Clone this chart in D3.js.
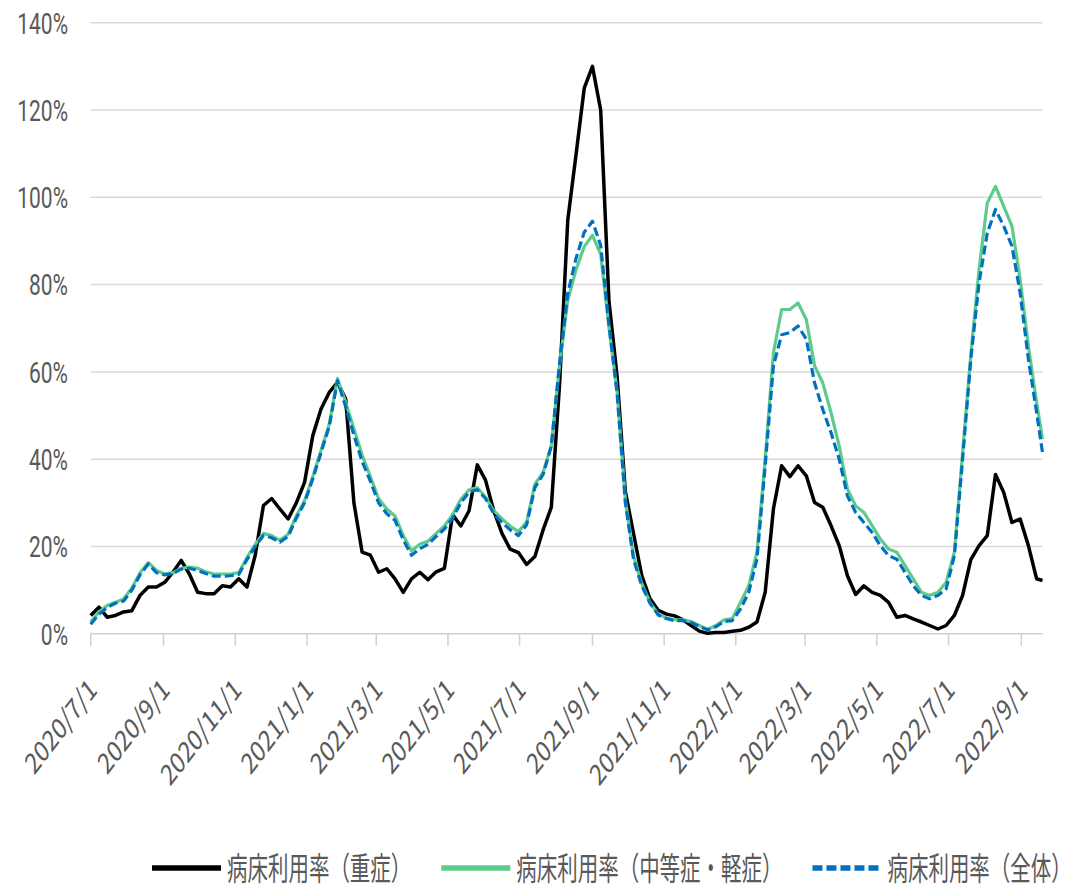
<!DOCTYPE html>
<html>
<head>
<meta charset="utf-8">
<script src="https://cdn.jsdelivr.net/npm/d3@7"></script>
<style>
  body { margin: 0; background: #fff; }
  text { font-family: "Noto Sans CJK JP", "Noto Sans", sans-serif; fill: #595959; }
</style>
</head>
<body>
<div id="chart"></div>
<script>
// weekly readings starting 2020/7/1, plus a last point on 2022/9/19
var startDay = "2020-07-01";
var lastDay = "2022-09-19";

// 病床利用率（重症） in %
var severe = [
  4.2, 6.1, 3.8, 4.2, 5, 5.3, 8.8, 10.7, 10.7, 11.8,
  14.1, 16.8, 13.7, 9.5, 9.2, 9.2, 11, 10.7, 12.6, 10.7,
  18, 29.4, 31, 28.6, 26.3, 30, 34.7, 45.4, 51.5, 55.3,
  57.6, 53.8, 30, 18.7, 18, 14.1, 14.9, 12.6, 9.5, 12.6,
  14.1, 12.4, 14.2, 15, 27.3, 24.7, 28.2, 38.7, 35.2, 28.2,
  23, 19.4, 18.6, 15.9, 17.7, 23.8, 29, 57.1, 94.8, 109.7,
  125, 130, 120, 76.4, 58.9, 32.6, 22.9, 13.3, 8, 5.4,
  4.5, 4.1, 3.2, 1.9, 0.6, 0.1, 0.3, 0.3, 0.6, 0.8,
  1.5, 2.7, 9.5, 28.6, 38.5, 36, 38.5, 36.2, 30.1, 29,
  24.8, 20.2, 13.3, 9, 11, 9.5, 8.8, 7.2, 3.8, 4.2,
  3.4, 2.7, 1.9, 1.1, 1.9, 4.2, 8.8, 17, 20.2, 22.5,
  36.5, 32.4, 25.5, 26.3, 20.2, 12.6, 12.2
];

// 病床利用率（中等症・軽症） in %
var moderate = [
  2.7, 5, 6.5, 7.2, 8, 10.5, 14, 16.3, 14.5, 13.7,
  14, 15, 15.3, 15, 14.2, 13.7, 13.7, 13.7, 14, 17.5,
  20.5, 23, 22.5, 21.4, 22.8, 27, 30.5, 36, 42, 48,
  58.5, 53, 47, 41, 36, 31, 28.6, 27, 22.5, 19,
  20.5, 21.2, 23, 24.7, 27.3, 30.8, 33, 33.5, 31.3, 28.2,
  26.4, 24.7, 23.4, 25.6, 34.3, 37, 43.1, 61.5, 76.4, 83.4,
  88.7, 91.3, 87, 70.3, 55.4, 30.8, 17.7, 11.5, 7.2, 4.5,
  3.6, 3.2, 3.2, 2.8, 1.9, 1, 1.9, 3.2, 3.5, 7.2,
  11, 18.7, 40, 64.4, 74.3, 74.3, 75.8, 72, 61.4, 57.5,
  50.7, 43, 33.2, 29.3, 27.8, 24.8, 21.7, 19.4, 18.7, 15.6,
  12.6, 9.5, 8.8, 9.5, 11.8, 18.7, 41.5, 64, 83.5, 98.7,
  102.5, 97.9, 93.4, 81.2, 65.9, 53, 44.6
];

// 病床利用率（全体） in %
var overall = [
  2.2, 4.5, 6, 7, 7.5, 10, 13.5, 16, 14, 13.5,
  13.8, 14.8, 15, 14.5, 13.8, 13.2, 13.2, 13.3, 13.6, 17,
  20, 22.5, 22, 21, 22.3, 26.5, 30, 35.5, 41.5, 47.5,
  58, 52, 45.5, 39.5, 35, 30, 27.5, 26, 21.5, 18,
  19.5, 20.5, 22.3, 24, 26.5, 30, 32.5, 33, 31, 27.5,
  25.5, 23.8, 22.5, 25, 33.5, 36.5, 43, 62, 78, 86,
  92, 94.5, 89, 71, 55, 30, 17, 11, 7, 4.3,
  3.5, 3, 3, 2.6, 1.7, 0.9, 1.6, 2.8, 3, 5.7,
  9.5, 17.1, 38.5, 61.4, 68.5, 69, 70.5, 67.5, 57.5, 51.4,
  46.1, 40, 31.6, 27.8, 25.5, 23.2, 20.2, 17.9, 17.1, 14.1,
  11, 8.8, 8, 8.8, 10.3, 17.9, 40, 62.9, 80.4, 91.8,
  97.2, 93.4, 88.8, 78.1, 62.9, 50.7, 41.5
];

var seriesNames = ["病床利用率（重症）", "病床利用率（中等症・軽症）", "病床利用率（全体）"];
var seriesColors = ["#000000", "#5ecb8c", "#0070c0"];

var yTicks = [0, 20, 40, 60, 80, 100, 120, 140];
var xTickLabels = ["2020/7/1", "2020/9/1", "2020/11/1", "2021/1/1", "2021/3/1", "2021/5/1",
  "2021/7/1", "2021/9/1", "2021/11/1", "2022/1/1", "2022/3/1", "2022/5/1", "2022/7/1", "2022/9/1"];

var W = 1076, H = 889;
var parseDay = d3.utcParse("%Y-%m-%d");
var parseTick = d3.utcParse("%Y/%m/%d");

var t0 = parseDay(startDay);
var dates = severe.slice(0, -1).map(function(d, i) { return d3.utcDay.offset(t0, 7 * i); });
dates.push(parseDay(lastDay));

var svg = d3.select("#chart").append("svg")
  .attr("width", W).attr("height", H);

var x = d3.scaleUtc()
  .domain([t0, parseDay(lastDay)])
  .range([90.7, 1042.5]);
var y = d3.scaleLinear()
  .domain([0, 140])
  .range([633.8, 22.7]);

// gridlines
svg.append("g").selectAll("line")
  .data(yTicks.filter(function(d) { return d > 0; }))
  .enter().append("line")
    .attr("x1", x.range()[0]).attr("x2", x.range()[1])
    .attr("y1", function(d) { return y(d); })
    .attr("y2", function(d) { return y(d); })
    .attr("stroke", "#d9d9d9")
    .attr("stroke-width", 1.5);

// y labels (squeezed sideways like the source)
svg.append("g").selectAll("g")
  .data(yTicks)
  .enter().append("g")
    .attr("transform", function(d) { return "translate(68," + y(d) + ") scale(0.7,1)"; })
  .append("text")
    .attr("text-anchor", "end")
    .attr("dy", "0.36em")
    .style("font-family", "Roboto, sans-serif")
    .style("font-size", "30px")
    .text(function(d) { return d + "%"; });

// x axis
var tickDates = xTickLabels.map(function(s) { return parseTick(s); });
svg.append("line")
  .attr("x1", x.range()[0]).attr("x2", x.range()[1])
  .attr("y1", y(0)).attr("y2", y(0))
  .attr("stroke", "#d0d0d0").attr("stroke-width", 1.5);
svg.append("g").selectAll("line")
  .data(tickDates)
  .enter().append("line")
    .attr("x1", function(d) { return x(d); })
    .attr("x2", function(d) { return x(d); })
    .attr("y1", y(0)).attr("y2", y(0) + 12)
    .attr("stroke", "#d0d0d0").attr("stroke-width", 1.5);

svg.append("g").selectAll("g")
  .data(tickDates)
  .enter().append("g")
    .attr("transform", function(d) { return "translate(" + (x(d) + 2) + ",684) scale(0.76,1) rotate(-45)"; })
  .append("text")
    .attr("text-anchor", "end")
    .attr("dy", "0.36em")
    .style("font-size", "29px")
    .text(function(d, i) { return xTickLabels[i]; });

// lines
var line = d3.line()
  .x(function(d, i) { return x(dates[i]); })
  .y(function(d) { return y(d); });

var allSeries = [severe, moderate, overall];
allSeries.forEach(function(s, i) {
  svg.append("path")
    .datum(s)
    .attr("d", line)
    .attr("fill", "none")
    .attr("stroke", seriesColors[i])
    .attr("stroke-width", i == 0 ? 3.5 : 3.2)
    .attr("stroke-linejoin", "round")
    .attr("stroke-dasharray", i == 2 ? "9,4" : null);
});

// legend
var legendX = 152, legendY = 868, sxLegend = 0.64;
seriesNames.forEach(function(name, i) {
  var g = svg.append("g");
  g.append("line")
    .attr("x1", legendX).attr("x2", legendX + 69)
    .attr("y1", legendY).attr("y2", legendY)
    .attr("stroke", seriesColors[i])
    .attr("stroke-width", 5.5)
    .attr("stroke-dasharray", i == 2 ? "10,4" : null);
  var tg = g.append("g")
    .attr("transform", "translate(" + (legendX + 75) + "," + legendY + ") scale(" + sxLegend + ",1)");
  var t = tg.append("text")
    .attr("dy", "0.36em")
    .style("font-size", "32px")
    .text(name);
  var w = t.node().getComputedTextLength() * sxLegend;
  legendX = legendX + 75 + w + 30;
});
</script>
</body>
</html>
